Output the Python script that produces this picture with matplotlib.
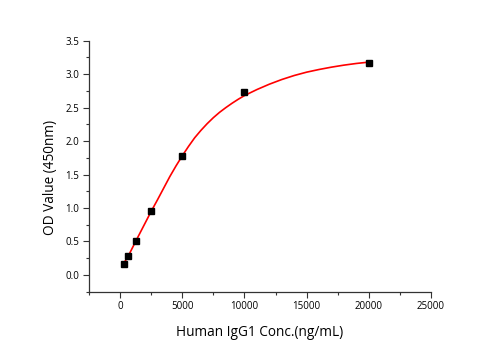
import numpy as np
import matplotlib
matplotlib.use("Agg")
import matplotlib.pyplot as plt
from matplotlib.ticker import MultipleLocator, FormatStrFormatter

# standard points (ng/mL, OD450)
conc = [312.5, 625, 1250, 2500, 5000, 10000, 20000]
od = [0.16, 0.28, 0.50, 0.96, 1.78, 2.73, 3.17]

# fitted curve
fit_x = [312.5, 625, 1250, 2000, 2500, 3000, 3500, 4000, 4500, 5000, 5500,
         6000, 6500, 7000, 7500, 8000, 8500, 9000, 9500, 10000, 11000,
         12000, 13000, 14000, 15000, 16000, 17000, 18000, 19000, 20000]
fit_y = [0.18, 0.27, 0.50, 0.77, 0.95, 1.12, 1.295, 1.47, 1.63, 1.78, 1.92,
         2.05, 2.16, 2.26, 2.35, 2.43, 2.50, 2.565, 2.625, 2.68, 2.77,
         2.85, 2.92, 2.98, 3.03, 3.07, 3.105, 3.135, 3.16, 3.18]

plt.rcParams['font.family'] = ['Open Sans', 'DejaVu Sans']

fig = plt.figure(figsize=(5.01, 3.5), dpi=100)
ax = fig.add_axes([0.1776, 0.1666, 0.6827, 0.7171])

ax.plot(fit_x, fit_y, color='red', lw=1.2, zorder=2)
ax.plot(conc, od, 's', color='black', ms=4.5, zorder=3)

ax.set_xlim(-2500, 25000)
ax.set_ylim(-0.25, 3.5)
ax.xaxis.set_minor_locator(MultipleLocator(2500))
ax.yaxis.set_minor_locator(MultipleLocator(0.25))
ax.set_xticks([0, 5000, 10000, 15000, 20000, 25000])
ax.set_yticks(np.arange(0, 3.51, 0.5))
ax.yaxis.set_major_formatter(FormatStrFormatter('%.1f'))

for s in ['top', 'right']:
    ax.spines[s].set_visible(False)
for s in ['left', 'bottom']:
    ax.spines[s].set_color('#333333')
    ax.spines[s].set_linewidth(0.9)

ax.tick_params(which='major', direction='out', length=4, width=0.8,
               color='#333333', labelsize=7, pad=3)
ax.tick_params(which='minor', direction='out', length=2.5, width=0.8,
               color='#333333')

ax.set_xlabel('Human IgG1 Conc.(ng/mL)', fontsize=9.8, labelpad=9)
ax.set_ylabel('OD Value (450nm)', fontsize=9.8)
# label sits a bit below the axis middle in the original
ax.yaxis.set_label_coords(-0.091, 0.457)

fig.savefig('out.png', dpi=100)
